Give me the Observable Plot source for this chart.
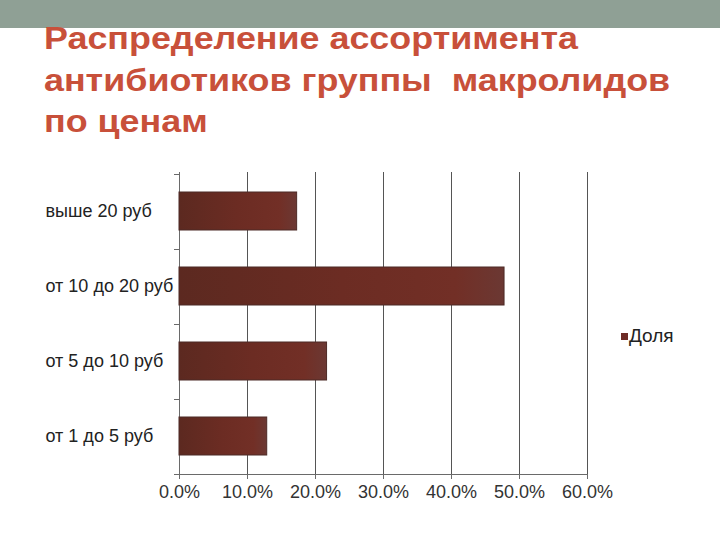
<!DOCTYPE html>
<html>
<head>
<meta charset="utf-8">
<script src="https://cdn.jsdelivr.net/npm/d3@7"></script>
<script src="https://cdn.jsdelivr.net/npm/@observablehq/plot@0.6"></script>
<style>
  html, body { margin: 0; padding: 0; background: #fff; width: 720px; height: 540px; overflow: hidden; }
  #topbar { position: absolute; left: 0; top: 0; width: 720px; height: 28px; background: #8fa095; }
  #title { position: absolute; left: 44px; top: 18px; white-space: nowrap; font-family: "Liberation Sans", Arial, sans-serif;
           font-weight: bold; font-size: 31px; line-height: 41.5px; color: #c8503a;
           transform: scaleX(1.157); transform-origin: 0 0; }
  #chart { position: absolute; left: 0; top: 150px; }
  #legend { position: absolute; left: 621px; top: 325px; font-family: "Liberation Sans", Arial, sans-serif;
            font-size: 19px; color: #222; display: flex; align-items: center; }
  #legend .sw { width: 7px; height: 7px; background: #6d2b26; margin-right: 1px; }
</style>
</head>
<body>
<div id="topbar"></div>
<div id="title">Распределение ассортимента<br>антибиотиков группы&nbsp; макролидов<br>по ценам</div>
<div id="chart"></div>
<div id="legend"><span class="sw"></span><span id="legtext"></span></div>
<script>
const categories = ["выше 20 руб", "от 10 до 20 руб", "от 5 до 10 руб", "от 1 до 5 руб"];
const shares = [0.173, 0.478, 0.217, 0.129];
const xTicks = [0, 0.1, 0.2, 0.3, 0.4, 0.5, 0.6];
const gridTicks = [0.1, 0.2, 0.3, 0.4, 0.5, 0.6];
const seriesName = "Доля";

const data = categories.map((c, i) => ({category: c, value: shares[i]}));

// gradient defs for bars
const defsMark = () => {
  const svgNS = "http://www.w3.org/2000/svg";
  const defs = document.createElementNS(svgNS, "defs");
  defs.innerHTML = `<linearGradient id="barGrad" x1="0" y1="0" x2="1" y2="0">
      <stop offset="0" stop-color="#5c2920"/>
      <stop offset="0.5" stop-color="#6c2c23"/>
      <stop offset="0.85" stop-color="#722f26"/>
      <stop offset="1" stop-color="#6b3833"/>
    </linearGradient>`;
  return defs;
};

// short tick marks at category band boundaries on the y axis
const bandTicks = (index, scales) => {
  const svgNS = "http://www.w3.org/2000/svg";
  const g = document.createElementNS(svgNS, "g");
  const y = scales.y;
  const bw = y.bandwidth();
  const step = y.step();
  const x0 = scales.x(0);
  const bounds = [];
  categories.forEach(c => bounds.push(y(c) + bw / 2 - step / 2));
  bounds.push(y(categories[categories.length - 1]) + bw / 2 + step / 2);
  bounds.forEach(b => {
    const l = document.createElementNS(svgNS, "line");
    l.setAttribute("x1", x0 - 5); l.setAttribute("x2", x0);
    l.setAttribute("y1", Math.round(b) + 0.5); l.setAttribute("y2", Math.round(b) + 0.5);
    l.setAttribute("stroke", "#6a6a6a");
    g.appendChild(l);
  });
  return g;
};

const chart = Plot.plot({
  width: 720,
  height: 360,
  marginTop: 22,
  marginBottom: 36,
  marginLeft: 179,
  marginRight: 133,
  style: {fontFamily: "'Liberation Sans', Arial, sans-serif", background: "transparent"},
  x: {domain: [0, 0.6]},
  y: {domain: categories, paddingInner: 0.5, paddingOuter: 0.25},
  marks: [
    defsMark,
    Plot.ruleX(gridTicks, {stroke: "#555", strokeWidth: 1}),
    Plot.ruleX([0], {stroke: "#6a6a6a", strokeWidth: 1}),
    Plot.frame({anchor: "bottom", stroke: "#6a6a6a"}),
    bandTicks,
    Plot.barX(data, {x: "value", y: "category", fill: "url(#barGrad)", stroke: "#4d2a26", strokeWidth: 1}),
    Plot.axisX({ticks: xTicks, tickFormat: d3.format(".1%"), tickSize: 5, tickPadding: 6,
                fontSize: 18, stroke: "#6a6a6a", color: "#333", label: null}),
    Plot.axisY({tickSize: 0, tickPadding: 0, textAnchor: "start", dx: -134, fontSize: 18,
                color: "#222", label: null})
  ]
});
document.getElementById("chart").appendChild(chart);
document.getElementById("legtext").textContent = seriesName;
</script>
</body>
</html>
